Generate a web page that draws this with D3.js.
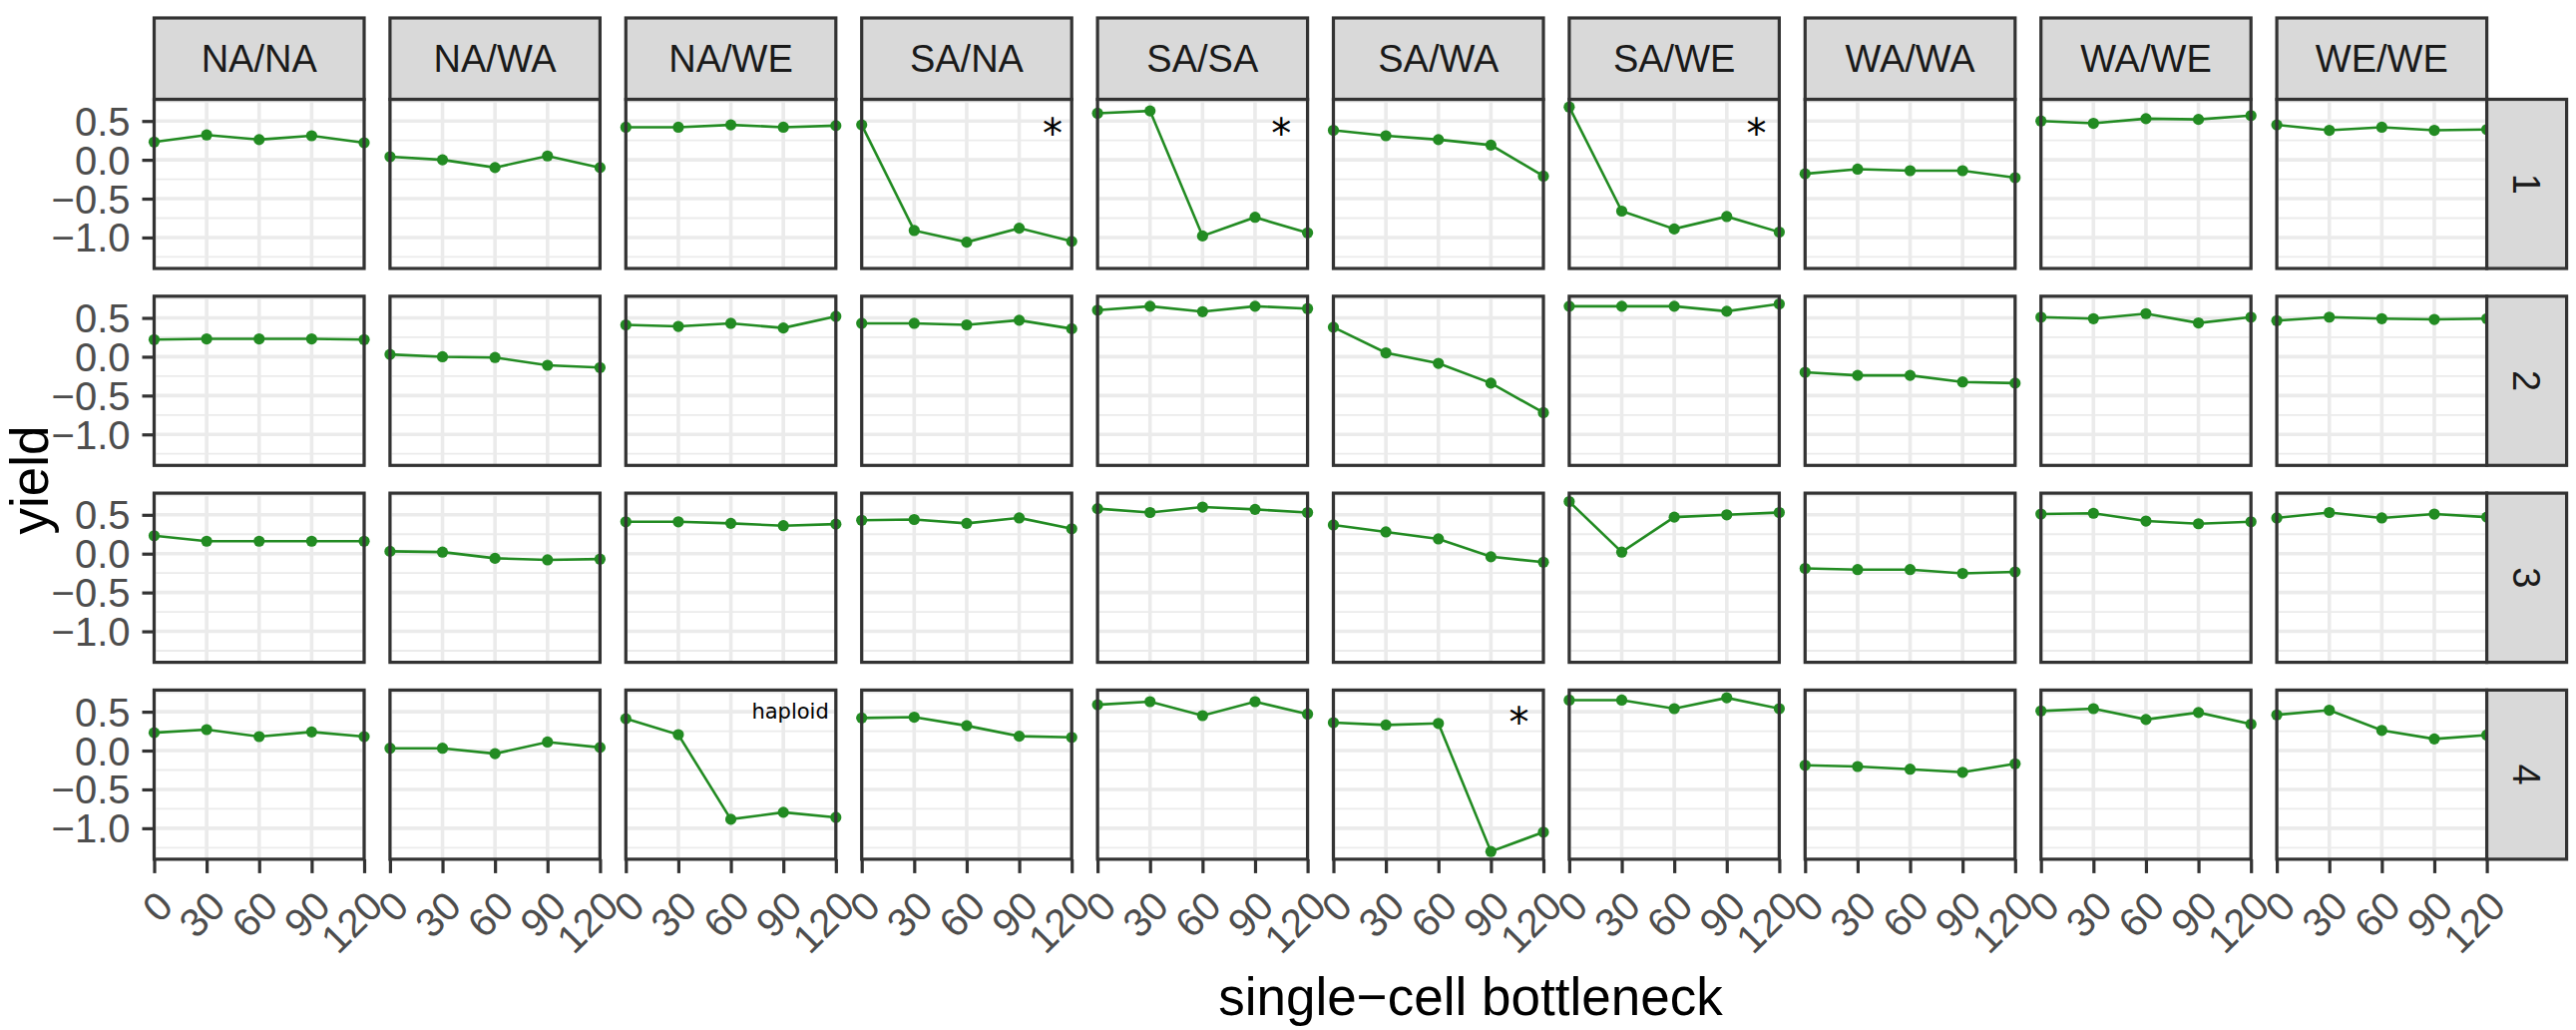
<!DOCTYPE html>
<html>
<head>
<meta charset="utf-8">
<script src="https://cdn.jsdelivr.net/npm/d3@7"></script>
<style>
body { margin: 0; background: #fff; }
svg { display: block; }
</style>
</head>
<body>
<svg id="chart" width="2582" height="1032"></svg>
<script>
// facet columns (pair) and rows (replicate)
var pairs = ["NA/NA", "NA/WA", "NA/WE", "SA/NA", "SA/SA", "SA/WA", "SA/WE", "WA/WA", "WA/WE", "WE/WE"];
var reps = ["1", "2", "3", "4"];
var bottleneck = [0, 30, 60, 90, 120];
var yTicks = [-1.0, -0.5, 0.0, 0.5];
var yMinor = [-1.25, -0.75, -0.25, 0.25, 0.75];

// yield per pair, one array per replicate row (same order as pairs)
var yieldRep1 = [
  [0.23, 0.32, 0.26, 0.31, 0.22],
  [0.04, 0.00, -0.10, 0.05, -0.10],
  [0.42, 0.42, 0.45, 0.42, 0.44],
  [0.45, -0.91, -1.06, -0.88, -1.05],
  [0.60, 0.63, -0.98, -0.74, -0.94],
  [0.38, 0.31, 0.26, 0.19, -0.21],
  [0.68, -0.66, -0.89, -0.73, -0.93],
  [-0.18, -0.12, -0.14, -0.14, -0.23],
  [0.50, 0.47, 0.53, 0.52, 0.57],
  [0.45, 0.38, 0.42, 0.38, 0.39]
];
var yieldRep2 = [
  [0.22, 0.23, 0.23, 0.23, 0.22],
  [0.03, 0.00, -0.01, -0.11, -0.14],
  [0.41, 0.39, 0.43, 0.37, 0.52],
  [0.43, 0.43, 0.41, 0.47, 0.36],
  [0.60, 0.65, 0.58, 0.65, 0.62],
  [0.38, 0.05, -0.085, -0.34, -0.72],
  [0.65, 0.65, 0.65, 0.585, 0.68],
  [-0.20, -0.24, -0.24, -0.325, -0.34],
  [0.51, 0.49, 0.555, 0.435, 0.51],
  [0.465, 0.51, 0.49, 0.48, 0.49]
];
var yieldRep3 = [
  [0.23, 0.16, 0.16, 0.16, 0.16],
  [0.03, 0.02, -0.06, -0.08, -0.07],
  [0.41, 0.41, 0.39, 0.36, 0.38],
  [0.43, 0.44, 0.39, 0.46, 0.32],
  [0.58, 0.53, 0.60, 0.57, 0.53],
  [0.37, 0.28, 0.19, -0.04, -0.11],
  [0.67, 0.02, 0.47, 0.50, 0.53],
  [-0.19, -0.205, -0.205, -0.255, -0.235],
  [0.51, 0.52, 0.42, 0.385, 0.41],
  [0.46, 0.53, 0.46, 0.51, 0.47]
];
var yieldRep4 = [
  [0.23, 0.27, 0.18, 0.24, 0.18],
  [0.03, 0.03, -0.04, 0.11, 0.04],
  [0.41, 0.205, -0.885, -0.795, -0.86],
  [0.42, 0.43, 0.32, 0.185, 0.17],
  [0.59, 0.63, 0.45, 0.63, 0.47],
  [0.36, 0.33, 0.35, -1.30, -1.05],
  [0.65, 0.65, 0.54, 0.68, 0.54],
  [-0.19, -0.205, -0.24, -0.28, -0.17],
  [0.51, 0.54, 0.40, 0.49, 0.34],
  [0.46, 0.52, 0.26, 0.15, 0.20]
];
var yields = [yieldRep1, yieldRep2, yieldRep3, yieldRep4];

// text annotations
var starRep = [0, 0, 0, 3];
var starPair = ["SA/NA", "SA/SA", "SA/WE", "SA/WA"];
var starX = [109, 105, 107, 106];
var starY = [0.45, 0.45, 0.45, 0.47];
var noteText = "haploid", notePair = "NA/WE", noteRep = 3, noteX = 116, noteY = 0.41;

var svg = d3.select("#chart");

var left0 = 154.5, colStep = 236.4, panelW = 210.5;
var top0 = 99.5, rowStep = 197.3, panelH = 169.5;
var stripTop = 18, stripW = 80;
var dark = "#333333", grid = "#EBEBEB", green = "#228B22";

var allVals = d3.merge(yields.map(function(r) { return d3.merge(r); }));
var lo = d3.min(allVals), hi = d3.max(allVals), pad = (hi - lo) * 0.05;

var x = d3.scaleLinear().domain([0, 120]).range([0, panelW]);
var y = d3.scaleLinear().domain([lo - pad, hi + pad]).range([panelH, 0]);

var line = d3.line()
  .x(function(d, i) { return x(bottleneck[i]); })
  .y(function(d) { return y(d); });

reps.forEach(function(rep, r) {
  pairs.forEach(function(pair, c) {
    var g = svg.append("g")
      .attr("transform", "translate(" + (left0 + c * colStep) + "," + (top0 + r * rowStep) + ")");

    g.append("rect").attr("width", panelW).attr("height", panelH).attr("fill", "#fff");

    g.selectAll(".minor").data(yMinor).enter().append("line")
      .attr("x1", 0).attr("x2", panelW)
      .attr("y1", function(d) { return y(d); }).attr("y2", function(d) { return y(d); })
      .attr("stroke", grid).attr("stroke-width", 1.8);
    g.selectAll(".majy").data(yTicks).enter().append("line")
      .attr("x1", 0).attr("x2", panelW)
      .attr("y1", function(d) { return y(d); }).attr("y2", function(d) { return y(d); })
      .attr("stroke", grid).attr("stroke-width", 3.6);
    g.selectAll(".majx").data(bottleneck).enter().append("line")
      .attr("y1", 0).attr("y2", panelH)
      .attr("x1", function(d) { return x(d); }).attr("x2", function(d) { return x(d); })
      .attr("stroke", grid).attr("stroke-width", 3.6);

    var vals = yields[r][c];
    g.append("path").datum(vals)
      .attr("d", line)
      .attr("fill", "none").attr("stroke", green).attr("stroke-width", 2.6);
    g.selectAll("circle").data(vals).enter().append("circle")
      .attr("cx", function(d, i) { return x(bottleneck[i]); })
      .attr("cy", function(d) { return y(d); })
      .attr("r", 5.6).attr("fill", green);

    starPair.forEach(function(sp, k) {
      if (sp == pair && starRep[k] == r) {
        g.append("text")
          .attr("x", x(starX[k])).attr("y", y(starY[k]))
          .attr("dy", "0.56em").attr("text-anchor", "middle")
          .attr("font-family", "DejaVu Sans").attr("font-size", 40)
          .text("*");
      }
    });
    if (pair == notePair && r == noteRep) {
      g.append("text")
        .attr("x", x(noteX)).attr("y", y(noteY))
        .attr("text-anchor", "end")
        .attr("font-family", "DejaVu Sans").attr("font-size", 21)
        .text(noteText);
    }

    g.append("rect").attr("width", panelW).attr("height", panelH)
      .attr("fill", "none").attr("stroke", dark).attr("stroke-width", 3.2);

    // top strip
    if (r == 0) {
      g.append("rect")
        .attr("y", stripTop - top0).attr("width", panelW).attr("height", top0 - stripTop)
        .attr("fill", "#D9D9D9").attr("stroke", dark).attr("stroke-width", 3.2);
      g.append("text")
        .attr("x", panelW / 2).attr("y", (stripTop - top0) / 2)
        .attr("dy", "0.35em").attr("text-anchor", "middle")
        .attr("font-family", "Liberation Sans, Arial, sans-serif").attr("font-size", 38)
        .attr("fill", "#1A1A1A")
        .text(pair);
    }
    // right strip
    if (c == pairs.length - 1) {
      g.append("rect")
        .attr("x", panelW).attr("width", stripW).attr("height", panelH)
        .attr("fill", "#D9D9D9").attr("stroke", dark).attr("stroke-width", 3.2);
      g.append("text")
        .attr("transform", "translate(" + (panelW + stripW / 2) + "," + (panelH / 2) + ") rotate(90)")
        .attr("dy", "0.35em").attr("text-anchor", "middle")
        .attr("font-family", "Liberation Sans, Arial, sans-serif").attr("font-size", 38)
        .attr("fill", "#1A1A1A")
        .text(rep);
    }

    // y axis on first column
    if (c == 0) {
      var ya = g.append("g").call(d3.axisLeft(y).tickValues(yTicks).tickSize(12).tickPadding(12)
        .tickFormat(d3.format(".1f")));
      ya.select(".domain").remove();
      ya.selectAll("line").attr("stroke", dark).attr("stroke-width", 3.2);
      ya.selectAll("text").attr("font-family", "Liberation Sans, Arial, sans-serif")
        .attr("font-size", 40).attr("fill", "#4D4D4D").attr("dy", "0.35em");
    }
    // x axis on last row
    if (r == reps.length - 1) {
      var xa = g.append("g").attr("transform", "translate(0," + panelH + ")")
        .call(d3.axisBottom(x).tickValues(bottleneck).tickSize(14));
      xa.select(".domain").remove();
      xa.selectAll("line").attr("stroke", dark).attr("stroke-width", 3.2);
      xa.selectAll("text")
        .attr("font-family", "Liberation Sans, Arial, sans-serif")
        .attr("font-size", 40).attr("fill", "#4D4D4D")
        .attr("y", 0).attr("dy", "0.72em")
        .attr("text-anchor", "end")
        .attr("transform", "translate(0,29) rotate(-45)");
    }
  });
});

svg.append("text")
  .attr("transform", "translate(48,481) rotate(-90)")
  .attr("text-anchor", "middle")
  .attr("font-family", "Liberation Sans, Arial, sans-serif").attr("font-size", 53)
  .text("yield");

svg.append("text")
  .attr("x", 1474).attr("y", 1017)
  .attr("text-anchor", "middle")
  .attr("font-family", "Liberation Sans, Arial, sans-serif").attr("font-size", 53)
  .text("single\u2212cell bottleneck");
</script>
</body>
</html>
